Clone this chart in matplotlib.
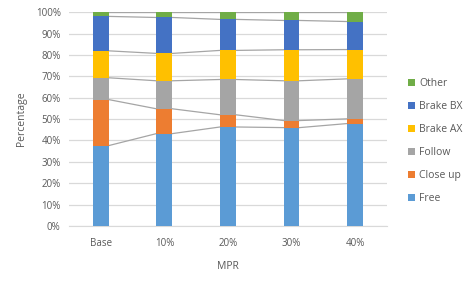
import matplotlib
matplotlib.use("Agg")
import matplotlib.pyplot as plt
import numpy as np
from matplotlib.patches import Patch

categories = ["Base", "10%", "20%", "30%", "40%"]
series_names = ["Free", "Close up", "Follow", "Brake AX", "Brake BX", "Other"]
free = [37.6, 43.2, 46.3, 46.0, 47.9]
close_up = [21.5, 11.6, 5.7, 3.3, 2.2]
follow = [10.2, 13.1, 16.5, 18.6, 18.7]
brake_ax = [12.6, 12.8, 13.6, 14.5, 13.7]
brake_bx = [16.1, 16.8, 14.5, 13.7, 13.1]
other = [2.0, 2.5, 3.4, 3.9, 4.4]
colors = ["#5B9BD5", "#ED7D31", "#A5A5A5", "#FFC000", "#4472C4", "#70AD47"]

data = [free, close_up, follow, brake_ax, brake_bx, other]
tc = "#595959"
plt.rcParams['font.family'] = ['Open Sans', 'DejaVu Sans']

fig = plt.figure(figsize=(4.73, 2.82), dpi=100)
ax = fig.add_axes([0.1459, 0.1986, 0.818 - 0.1459, 0.957 - 0.1986])

x = np.arange(len(categories))
w = 0.25
bottom = np.zeros(len(categories))
for vals, col in zip(data, colors):
    v = np.array(vals, dtype=float)
    ax.bar(x, v, w, bottom=bottom, color=col, zorder=3)
    top = bottom + v
    for i in range(len(x) - 1):
        ax.plot([x[i] + w / 2, x[i + 1] - w / 2], [top[i], top[i + 1]],
                color="#A5A5A5", lw=0.9, zorder=2)
    bottom = top

ax.set_xlim(-0.5, len(categories) - 0.5)
ax.set_ylim(0, 100)
ax.set_yticks(np.arange(0, 101, 10))
ax.set_yticklabels([f"{t}%" for t in range(0, 101, 10)])
ax.set_xticks(x)
ax.set_xticklabels(categories)
ax.grid(axis="y", color="#D9D9D9", lw=0.9, zorder=0)
ax.set_axisbelow(True)
for s in ["top", "right", "left"]:
    ax.spines[s].set_visible(False)
ax.spines["bottom"].set_color("#D9D9D9")
ax.tick_params(axis="y", length=0, labelsize=7, colors=tc, pad=6)
ax.tick_params(axis="x", length=0, labelsize=7, colors=tc, pad=9)
ax.set_ylabel("Percentage", fontsize=7.5, color=tc, labelpad=6)
ax.set_xlabel("MPR", fontsize=7.5, color=tc, labelpad=8)

handles = [Patch(facecolor=c, edgecolor="none") for c in colors][::-1]
labels = series_names[::-1]
leg = fig.legend(handles, labels, loc="center left", bbox_to_anchor=(0.853, 0.5),
                 frameon=False, fontsize=7.5, labelcolor=tc, handlelength=0.7,
                 handleheight=0.7, handletextpad=0.4, labelspacing=1.15,
                 borderaxespad=0)

fig.savefig("out.png", dpi=100)
